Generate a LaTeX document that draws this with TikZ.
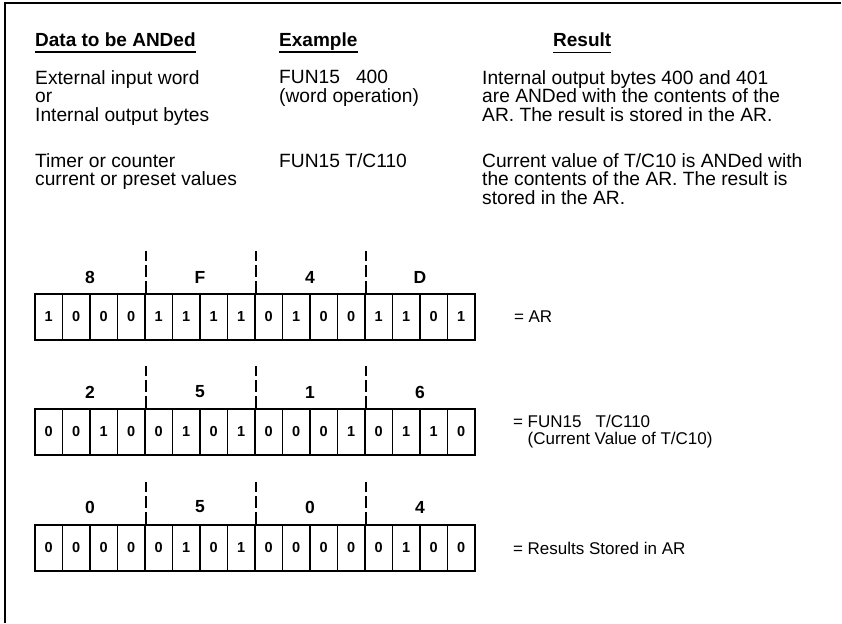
\documentclass[tikz,border=0pt]{standalone}
\usepackage{fontspec}
\setmainfont{Liberation Sans}
\usetikzlibrary{positioning}

\tikzset{
  heading/.style={anchor=north west, inner sep=0pt, font=\fontsize{19}{19}\bfseries\selectfont},
  bodytext/.style={anchor=north west, inner sep=0pt, align=left, font=\fontsize{19.2}{18.5}\selectfont},
  bitcell/.style={draw, line width=1.6pt, minimum width=27.5pt, minimum height=46pt, inner sep=0pt, font=\fontsize{14.5}{14.5}\bfseries\selectfont},
  hexdigit/.style={inner sep=0pt, font=\fontsize{17.5}{17.5}\bfseries\selectfont},
  nibblesep/.style={line width=1.6pt, dash pattern=on 12pt off 4pt},
  regtext/.style={inner sep=0pt, align=left, font=\fontsize{17}{17}\selectfont}
}

\begin{document}
\begin{tikzpicture}[x=1pt,y=-1pt]
    \useasboundingbox (0,0) rectangle (842,623);
    % Frame
    \draw[line width=2.2pt] (841,3) -- (5,3) -- (5,623);

    % Headings
    \node[heading] (datahead) at (35,33) {Data to be ANDed};
    \node[heading] (examplehead) at (279,33) {Example};
    \node[heading] (resulthead) at (553,33) {Result};
    \draw[line width=1.3pt] ([yshift=-5pt]datahead.base west) -- ([yshift=-5pt]datahead.base east);
    \draw[line width=1.3pt] ([yshift=-5pt]examplehead.base west) -- ([yshift=-5pt]examplehead.base east);
    \draw[line width=0.8pt] ([yshift=-5pt]resulthead.base west) -- ([yshift=-5pt]resulthead.base east);

    % Word operation row
    \node[bodytext] (worddata) at (35,70) {External input word\\or\\Internal output bytes};
    \node[bodytext] (wordex) at (279,70) {FUN15\ \ \ 400\\(word operation)};
    \node[bodytext] (wordres) at (482,70) {Internal output bytes 400 and 401\\are ANDed with the contents of the\\AR. The result is stored in the AR.};

    % Timer/counter row
    \node[bodytext] (tcdata) at (35,153) {Timer or counter\\current or preset values};
    \node[bodytext] (tcex) at (279,153) {FUN15 T/C110};
    \node[bodytext] (tcres) at (482,153) {Current value of T/C10 is ANDed with\\the contents of the AR. The result is\\stored in the AR.};

    % AR register
    \foreach \h [count=\k] in {8,F,4,D}
      \node[hexdigit] (arhex-\k) at ({-20+110*\k},277) {\h};
    \foreach \b [count=\i] in {1,0,0,0,1,1,1,1,0,1,0,0,1,1,0,1}
      \node[bitcell] (ar-\i) at ({21.25+27.5*\i},317) {\b};
    \foreach \k in {4,8,12}
      \draw[nibblesep] (ar-\k.north east) -- ++(0,-42);
    \node[regtext, right=38pt of ar-16] (areq) {= AR};

    % FUN15 T/C110 operand
    \foreach \h [count=\k] in {2,5,1,6}
      \node[hexdigit] (tchex-\k) at ({-20+110*\k},392) {\h};
    \foreach \b [count=\i] in {0,0,1,0,0,1,0,1,0,0,0,1,0,1,1,0}
      \node[bitcell] (tc-\i) at ({21.25+27.5*\i},432) {\b};
    \foreach \k in {4,8,12}
      \draw[nibblesep] (tc-\k.north east) -- ++(0,-42);
    \node[regtext, right=37pt of tc-16] (tceq) {=\ FUN15\ \ \ T/C110\\\hphantom{=\ }(Current Value of T/C10)};

    % Result
    \foreach \h [count=\k] in {0,5,0,4}
      \node[hexdigit] (reshex-\k) at ({-20+110*\k},507) {\h};
    \foreach \b [count=\i] in {0,0,0,0,0,1,0,1,0,0,0,0,0,1,0,0}
      \node[bitcell] (res-\i) at ({21.25+27.5*\i},548) {\b};
    \foreach \k in {4,8,12}
      \draw[nibblesep] (res-\k.north east) -- ++(0,-42);
    \node[regtext, right=37pt of res-16] (reseq) {= Results Stored in AR};
\end{tikzpicture}
\end{document}
